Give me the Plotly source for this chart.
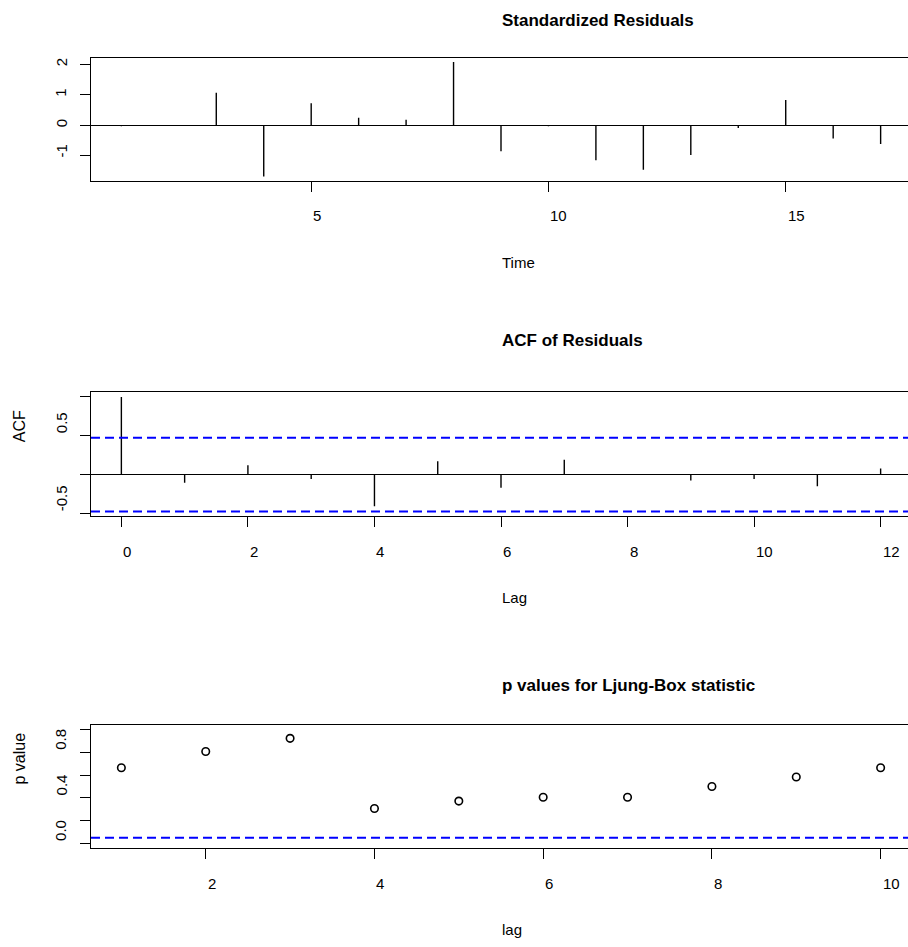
import plotly.graph_objects as go

# ---------------- data ----------------
time_idx = list(range(1, 18))
std_resid = [-0.03, -0.02, 1.07, -1.67, 0.72, 0.25, 0.18, 2.07, -0.85, -0.03,
             -1.14, -1.45, -0.97, -0.09, 0.83, -0.43, -0.61]

acf_lag = list(range(0, 13))
acf_vals = [1.0, -0.107, 0.12, -0.056, -0.41, 0.17, -0.17, 0.19, -0.005,
            -0.077, -0.056, -0.15, 0.077]
acf_ci = 0.475

lb_lag = list(range(1, 11))
lb_pvals = [0.664, 0.807, 0.923, 0.307, 0.372, 0.405, 0.405, 0.50, 0.583, 0.664]
sig_level = 0.05

x1_ticks = [5, 10, 15]
y1_ticks = [-1, 0, 1, 2]
y1_labels = ["-1", "0", "1", "2"]
x2_ticks = [0, 2, 4, 6, 8, 10, 12]
y2_ticks = [-0.5, 0, 0.5, 1.0]
y2_label_vals = [-0.5, 0.5]
y2_labels = ["-0.5", "0.5"]
x3_ticks = [2, 4, 6, 8, 10]
y3_ticks = [0, 0.2, 0.4, 0.6, 0.8, 1.0]
y3_label_vals = [0.0, 0.4, 0.8]
y3_labels = ["0.0", "0.4", "0.8"]

titles = ["Standardized Residuals", "ACF of Residuals", "p values for Ljung-Box statistic"]
xlabels = ["Time", "Lag", "lag"]
ylabels = ["", "ACF", "p value"]

# ---------------- layout geometry ----------------
W, H = 908, 947
ML = 91
PW = W - ML
FONT = "Liberation Sans, Arial, sans-serif"
TICKFS = 15
LABFS = 15
YLABFS = 16
TITLEFS = 17

# panel boxes in pixels (top, bottom)
boxes = [(57.5, 181.0), (392.3, 516.0), (725.0, 848.0)]
title_y = [20, 340, 685]
xlab_y = [262, 597, 929]
ytick_shift = [-4, 0, 0]
ylab_shift = [0, 10, 0]


def py(p):
    return 1 - p / H


def spikes(xs, ys):
    X, Y = [], []
    for a, b in zip(xs, ys):
        X += [a, a, None]
        Y += [0, b, None]
    return X, Y


fig = go.Figure()

sx, sy = spikes(time_idx, std_resid)
fig.add_trace(go.Scatter(x=sx, y=sy, mode="lines", line=dict(color="black", width=1.4),
                         xaxis="x", yaxis="y", showlegend=False, hoverinfo="skip"))
ax, ay = spikes(acf_lag, acf_vals)
fig.add_trace(go.Scatter(x=ax, y=ay, mode="lines", line=dict(color="black", width=1.4),
                         xaxis="x2", yaxis="y2", showlegend=False, hoverinfo="skip"))
fig.add_trace(go.Scatter(x=lb_lag, y=lb_pvals, mode="markers",
                         marker=dict(symbol="circle-open", size=7.5, color="black",
                                     line=dict(width=1.6, color="black")),
                         xaxis="x3", yaxis="y3", showlegend=False, hoverinfo="skip"))

ranges_x = [[0.36, 0.36 + 17.28 * 817 / 820], [-0.48, -0.48 + 12.96 * 817 / 820],
            [0.64, 0.64 + 9.72 * 817 / 820]]
ranges_y = [[-1.82, 2.22], [-0.534, 1.059], [-0.04, 1.04]]
xt = [x1_ticks, x2_ticks, x3_ticks]
yt = [y1_ticks, y2_ticks, y3_ticks]

axis_common = dict(showgrid=False, ticks="outside", ticklen=10, tickwidth=1.2,
                   tickcolor="black", showticklabels=False, linecolor="black",
                   linewidth=1.4, showline=True)

layout = dict(width=W, height=H, margin=dict(l=ML, r=0, t=0, b=0),
              plot_bgcolor="white", paper_bgcolor="white",
              font=dict(family=FONT, color="black"), showlegend=False)

for i in range(3):
    sfx = "" if i == 0 else str(i + 1)
    top, bot = boxes[i]
    layout["xaxis" + sfx] = dict(axis_common, range=ranges_x[i], tickvals=xt[i],
                                 mirror=True, zeroline=False,
                                 anchor="y" + sfx, domain=[0, 1])
    layout["yaxis" + sfx] = dict(axis_common, range=ranges_y[i], tickvals=yt[i],
                                 mirror=False, anchor="x" + sfx,
                                 domain=[py(bot), py(top)],
                                 zeroline=(i < 2), zerolinecolor="black", zerolinewidth=1.4)

fig.update_layout(**layout)

ann = []
shapes = []
# x tick labels
for i, ticks in enumerate(xt):
    sfx = "" if i == 0 else str(i + 1)
    for v in ticks:
        ann.append(dict(x=v, xref="x" + sfx, y=0, yref="y" + sfx + " domain",
                        yshift=-35, xanchor="left", yanchor="middle", showarrow=False,
                        text=str(v), font=dict(size=TICKFS)))
# y tick labels (rotated)
ylab_sets = [(y1_ticks, y1_labels), (y2_label_vals, y2_labels), (y3_label_vals, y3_labels)]
for i, (vals, labs) in enumerate(ylab_sets):
    sfx = "" if i == 0 else str(i + 1)
    for v, t in zip(vals, labs):
        ann.append(dict(x=0, xref="x" + sfx + " domain", xshift=-30, y=v, yref="y" + sfx,
                        yshift=ytick_shift[i],
                        xanchor="center", yanchor="bottom", textangle=-90, showarrow=False,
                        text=t, font=dict(size=TICKFS)))
# titles, x labels, y labels
xc = (500 - ML) / PW
for i in range(3):
    sfx = "" if i == 0 else str(i + 1)
    ann.append(dict(x=xc, xref="paper", y=py(title_y[i]), yref="paper", xanchor="left",
                    yanchor="middle", showarrow=False, text="<b>" + titles[i] + "</b>",
                    font=dict(size=TITLEFS)))
    ann.append(dict(x=xc, xref="paper", y=py(xlab_y[i]), yref="paper", xanchor="left",
                    yanchor="middle", showarrow=False, text=xlabels[i],
                    font=dict(size=LABFS)))
    if ylabels[i]:
        ann.append(dict(x=0, xref="paper", xshift=19 - ML, y=0.5, yref="y" + sfx + " domain",
                        yshift=ylab_shift[i],
                        xanchor="center", yanchor="bottom", textangle=-90, showarrow=False,
                        text=ylabels[i], font=dict(size=YLABFS)))

# significance lines
for v in (acf_ci, -acf_ci):
    shapes.append(dict(type="line", xref="x2 domain", x0=0, x1=1, yref="y2", y0=v, y1=v,
                       line=dict(color="blue", width=2, dash="9px,5px")))
shapes.append(dict(type="line", xref="x3 domain", x0=0, x1=1, yref="y3", y0=sig_level,
                   y1=sig_level, line=dict(color="blue", width=2, dash="9px,5px")))

fig.update_layout(annotations=ann, shapes=shapes)
fig.write_html("out.html")
